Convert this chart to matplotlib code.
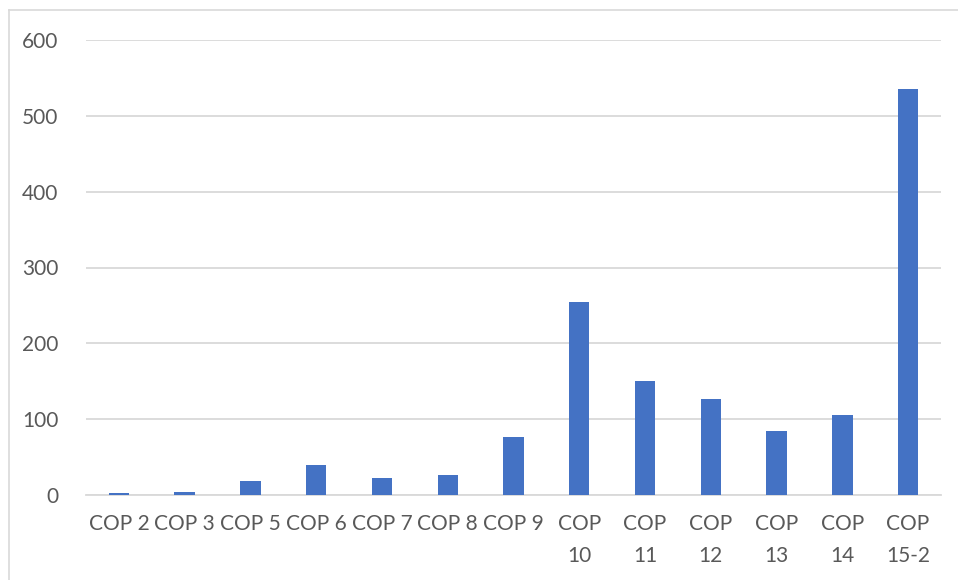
import matplotlib.pyplot as plt
from matplotlib.lines import Line2D

categories = ["COP 2", "COP 3", "COP 5", "COP 6", "COP 7", "COP 8", "COP 9",
              "COP\n10", "COP\n11", "COP\n12", "COP\n13", "COP\n14", "COP\n15-2"]
values = [2, 4, 19, 39, 22, 27, 77, 254, 150, 127, 84, 106, 535]
yticks = [0, 100, 200, 300, 400, 500, 600]

plt.rcParams['font.family'] = ['Lato', 'DejaVu Sans']

W, H = 958, 580
fig = plt.figure(figsize=(W / 100, H / 100), dpi=100)
ax = fig.add_axes([86 / W, 1 - 495 / H, (941 - 86) / W, (495 - 40) / H])

x = list(range(len(categories)))
ax.bar(x, values, width=0.31, color="#4472C4", zorder=3)

ax.set_xlim(-0.5, len(categories) - 0.5)
ax.set_ylim(0, 600)
ax.set_yticks(yticks)
ax.set_xticks(x)
ax.set_xticklabels(categories, linespacing=1.75)

ax.grid(axis="y", color="#D9D9D9", linewidth=1.3, zorder=0)
for s in ["top", "right", "left"]:
    ax.spines[s].set_visible(False)
ax.spines["bottom"].set_color("#D9D9D9")
ax.spines["bottom"].set_linewidth(1.3)
ax.tick_params(axis="both", length=0, labelsize=15, colors="#595959")
ax.tick_params(axis="y", pad=20)
ax.tick_params(axis="x", pad=14)

# outer chart frame (left and top edges visible)
fig.add_artist(Line2D([9 / W, 1], [1 - 10 / H, 1 - 10 / H], color="#D9D9D9",
                      linewidth=1.2, transform=fig.transFigure))
fig.add_artist(Line2D([9 / W, 9 / W], [0, 1 - 10 / H], color="#D9D9D9",
                      linewidth=1.2, transform=fig.transFigure))

fig.savefig("out.png", dpi=100)
